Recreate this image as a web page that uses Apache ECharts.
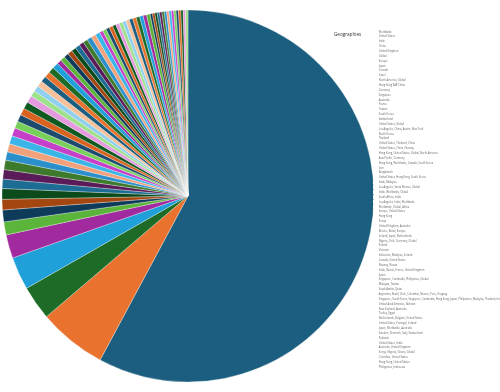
<!DOCTYPE html>
<html>
<head>
<meta charset="utf-8">
<script src="https://cdn.jsdelivr.net/npm/echarts@6/dist/echarts.min.js"></script>
<style>
html,body{margin:0;padding:0;background:#fff;}
#chart{width:500px;height:392px;}
</style>
</head>
<body>
<div id="chart"></div>
<script>
var legendTitle = 'Geographies';

var categories = [
 'Worldwide','United States','India','China','United Kingdom','Global','Europe','Japan','Canada','Israel',
 'North America, Global','Hong Kong SAR China','Germany','Singapore','Australia','France','Taiwan','South Korea','Switzerland','United States, Global',
 'Los Angeles, China, Austin, New York','North Korea','Thailand','United States, Thailand, China','United States, China, Norway','Hong Kong, United States, Global, North America','Asia Pacific, Germany','Hong Kong, Worldwide, Canada, South Korea','Iran','Bangladesh',
 'United States, Hong Kong, South Korea','India, Malaysia','Los Angeles, Santa Monica, Global','India, Worldwide, Global','South Africa, India','Los Angeles, India, Worldwide','Worldwide, Global, Africa','Europe, United States','Hong Kong','Kenya',
 'United Kingdom, Australia','Mexico, Brazil, Europe','Ireland, Japan, Netherlands','Nigeria, Chile, Germany, Global','Poland','Vietnam','Indonesia, Malaysia, Ireland','Canada, United States','Norway, Russia','India, Russia, France, United Kingdom',
 'Spain','Singapore, Cambodia, Philippines, Global','Malaysia, Taiwan','Saudi Arabia, Qatar','Argentina, Brazil, Chile, Colombia, Mexico, Peru, Uruguay','Singapore, South Korea, Singapore, Cambodia, Hong Kong, Japan, Philippines, Malaysia, Thailand, Indonesia','United Arab Emirates, Bahrain','New Zealand, Australia','Turkey, Egypt','Netherlands, Belgium, United States',
 'United States, Portugal, Ireland','Japan, Worldwide, Australia','Sweden, Denmark, Italy, Switzerland','Pakistan','United States, India','Australia, United Kingdom','Kenya, Nigeria, Ghana, Global','Colombia, United States','Hong Kong, United States','Philippines, Indonesia'
];

var values = [
 565,58,29,28,20,11,10,9,9,
 8,8,8,7,7,7,7,6,6,6,
 6,6,5,5,5,5,5,5,5,4,
 4,4,4,4,4,4,4,4,4,4,
 3,3,3,3,3,3,3,3,3,3,
 3,3,3,3,3,2,2,2,2,2,
 2,2,2,2,2,2,2,2,2,2,
 2
];

var palette = [
 '#1B5E7F','#E8722E','#1E6A27','#1FA0D9','#A12A9E','#5CB53B','#0F3B5B','#A4460F','#0B4A1A','#1C6C93',
 '#5A1C58','#3D7A2B','#2A8FCB','#F2A27A','#3BB5E8','#C63FC9','#78D05A','#1C4B6E','#D9621E','#0F5A20',
 '#E59AE0','#9FE08A','#8FD0F0','#F5C09A'
];

var data = categories.map(function(n,i){ return {name:n, value:values[i]}; });

var chart = echarts.init(document.getElementById('chart'), null, {renderer:'canvas'});
chart.setOption({
  animation:false,
  color: palette,
  title: {
    text: legendTitle,
    left: 329, top: 27,
    textStyle: {fontSize: 4.6, fontWeight: 'normal', color: '#333', fontFamily: 'Open Sans'}
  },
  legend: {
    orient: 'vertical',
    left: 373, top: 29.5,
    data: categories,
    icon: 'rect',
    itemWidth: 1.8, itemHeight: 2.6,
    itemGap: 0.26,
    padding: 0,
    selectedMode: false,
    textStyle: {fontSize: 2.6, lineHeight: 3, color: '#666', fontFamily: 'Open Sans', padding:[0,0,0,-2]}
  },
  series: [{
    type: 'pie',
    center: [188, 196],
    radius: [0, 186],
    startAngle: 90,
    clockwise: true,
    label: {show:false},
    labelLine: {show:false},
    itemStyle: {borderColor:'#fff', borderWidth:0.3},
    data: data
  }]
});
</script>
</body>
</html>
